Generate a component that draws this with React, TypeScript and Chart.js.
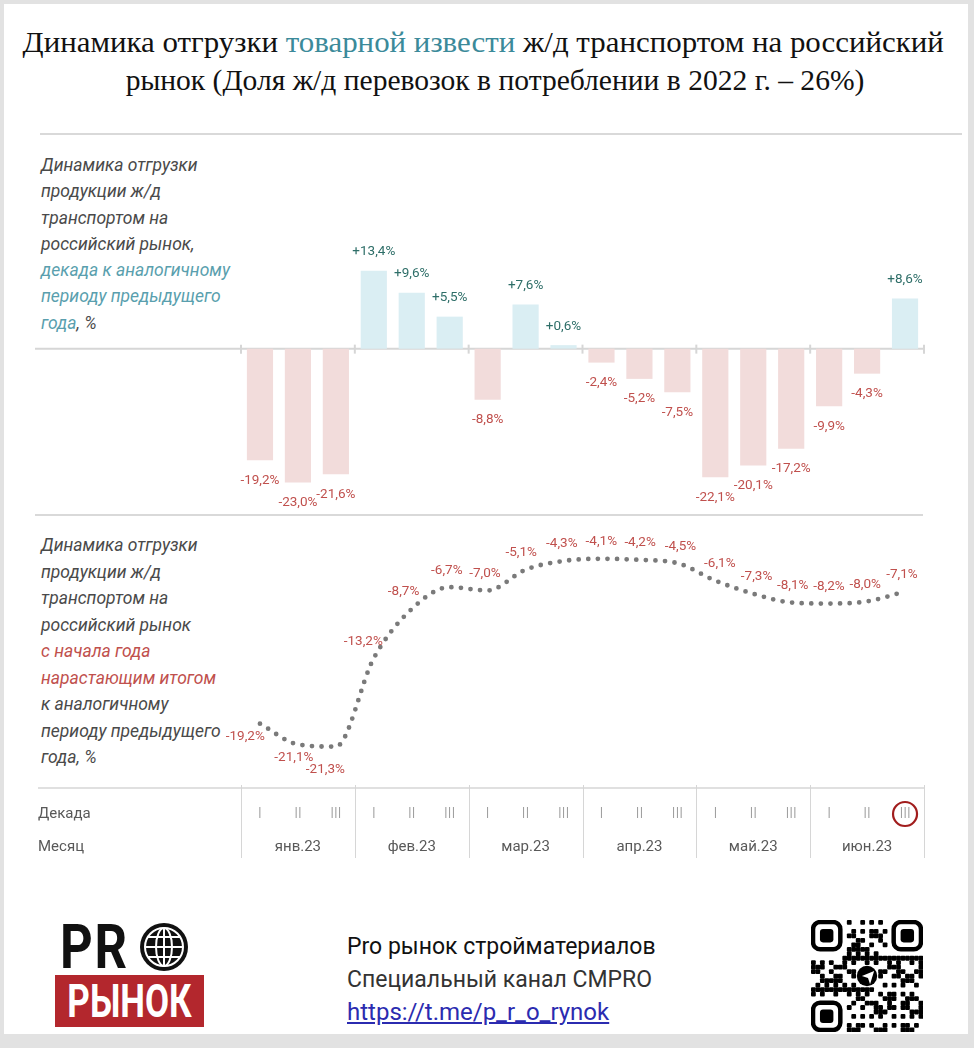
import React, { useEffect, useRef } from "react";
import { Chart, registerables } from "chart.js";

Chart.register(...registerables);

// ---------- data ----------
const decadeLabels = ["I", "II", "III", "I", "II", "III", "I", "II", "III", "I", "II", "III", "I", "II", "III", "I", "II", "III"];
const monthLabels = ["янв.23", "фев.23", "мар.23", "апр.23", "май.23", "июн.23"];
const decadeChange = [-19.2, -23.0, -21.6, 13.4, 9.6, 5.5, -8.8, 7.6, 0.6, -2.4, -5.2, -7.5, -22.1, -20.1, -17.2, -9.9, -4.3, 8.6];
const ytdChange = [-19.2, -21.1, -21.3, -13.2, -8.7, -6.7, -7.0, -5.1, -4.3, -4.1, -4.2, -4.5, -6.1, -7.3, -8.1, -8.2, -8.0, -7.1];

// ---------- styles ----------
const FONT = "Roboto, 'Noto Sans', sans-serif";
const NEG_BAR = "#f2dcdb";
const POS_BAR = "#daeef3";
const NEG_TXT = "#c0504d";
const POS_TXT = "#2e6e68";
const GRID = "#d6d6d6";
const N = decadeLabels.length;

const fmt = (v: number, plus: boolean) =>
  (plus && v > 0 ? "+" : "") + v.toFixed(1).replace(".", ",") + "%";

function BarChart() {
  const ref = useRef<HTMLCanvasElement>(null);
  useEffect(() => {
    const plugin = {
      id: "barDecor",
      beforeDatasetsDraw(chart: any) {
        const { ctx, chartArea, scales } = chart;
        const y0 = scales.y.getPixelForValue(0);
        ctx.save();
        ctx.strokeStyle = GRID;
        ctx.lineWidth = 2;
        ctx.beginPath();
        ctx.moveTo(35, y0);
        ctx.lineTo(chartArea.right, y0);
        ctx.stroke();
        const step = (chartArea.right - chartArea.left) / N;
        for (let i = 0; i <= N; i += 3) {
          const x = chartArea.left + i * step;
          ctx.beginPath();
          ctx.moveTo(x, y0 - 4);
          ctx.lineTo(x, y0 + 5);
          ctx.stroke();
        }
        ctx.restore();
      },
      afterDatasetsDraw(chart: any) {
        const { ctx } = chart;
        const meta = chart.getDatasetMeta(0);
        ctx.save();
        ctx.font = `13.5px ${FONT}`;
        ctx.textAlign = "center";
        ctx.textBaseline = "middle";
        meta.data.forEach((el: any, i: number) => {
          const v = decadeChange[i];
          ctx.fillStyle = v >= 0 ? POS_TXT : NEG_TXT;
          ctx.fillText(fmt(v, true), el.x, v >= 0 ? el.y - 19 : el.y + 20);
        });
        ctx.restore();
      },
    };
    const chart = new Chart(ref.current!, {
      type: "bar",
      data: {
        labels: decadeLabels,
        datasets: [
          {
            data: decadeChange,
            backgroundColor: decadeChange.map((v) => (v >= 0 ? POS_BAR : NEG_BAR)),
            borderWidth: 0,
            barPercentage: 0.69,
            categoryPercentage: 1,
          },
        ],
      },
      options: {
        animation: false,
        responsive: false,
        devicePixelRatio: 1,
        layout: { padding: { left: 241, right: 50, top: 0, bottom: 0 } },
        plugins: { legend: { display: false }, tooltip: { enabled: false } },
        scales: {
          x: { display: false, offset: true },
          y: { display: false, min: -28.6, max: 36.9 },
        },
      },
      plugins: [plugin],
    });
    return () => chart.destroy();
  }, []);
  return (
    <canvas
      ref={ref}
      width={974}
      height={381}
      style={{ position: "absolute", left: 0, top: 134, width: 974, height: 381 }}
    />
  );
}

function LineChart() {
  const ref = useRef<HTMLCanvasElement>(null);
  useEffect(() => {
    const plugin = {
      id: "lineDecor",
      afterDraw(chart: any) {
        const { ctx, chartArea } = chart;
        const meta = chart.getDatasetMeta(0);
        const pts = meta.data.map((p: any) => ({ x: p.x, y: p.y }));
        ctx.save();
        // value labels
        ctx.font = `13.5px ${FONT}`;
        ctx.textAlign = "center";
        ctx.textBaseline = "middle";
        ctx.fillStyle = NEG_TXT;
        pts.forEach((p: any, i: number) => {
          const a = pts[Math.max(0, i - 1)];
          const b = pts[Math.min(pts.length - 1, i + 1)];
          const dx = b.x - a.x;
          const dy = b.y - a.y;
          const len = Math.hypot(dx, dy) || 1;
          const nx = dy / len; // upward normal x
          const below = i < 3;
          const ox = below ? -Math.abs(nx) * 14 - (i === 0 ? 8 : 0) : nx * 12;
          const oy = below ? 13 + (i === 2 ? 10 : 0) : -17;
          ctx.fillText(fmt(ytdChange[i], false), p.x + ox, p.y + oy);
        });
        // table
        const axisY = chartArea.bottom + 1;
        const step = (chartArea.right - chartArea.left) / N;
        ctx.strokeStyle = GRID;
        ctx.lineWidth = 1.5;
        ctx.beginPath();
        ctx.moveTo(38, axisY);
        ctx.lineTo(chartArea.right + 1, axisY);
        ctx.stroke();
        ctx.lineWidth = 1;
        for (let i = 0; i <= N; i += 3) {
          const x = Math.round(chartArea.left + i * step) + 0.5;
          ctx.beginPath();
          ctx.moveTo(x, axisY - 3);
          ctx.lineTo(x, axisY + 70);
          ctx.stroke();
        }
        const decY = axisY + 26;
        const monY = axisY + 59;
        ctx.font = `15px ${FONT}`;
        ctx.textAlign = "left";
        ctx.fillStyle = "#595959";
        ctx.fillText("Декада", 38, decY);
        ctx.fillText("Месяц", 38, monY);
        ctx.textAlign = "center";
        ctx.font = `300 14px ${FONT}`;
        ctx.fillStyle = "#8a8a8a";
        decadeLabels.forEach((l, i) => {
          ctx.fillText(l, chartArea.left + (i + 0.5) * step, decY);
        });
        ctx.font = `15px ${FONT}`;
        ctx.fillStyle = "#595959";
        monthLabels.forEach((m, j) => {
          ctx.fillText(m, chartArea.left + (j * 3 + 1.5) * step, monY);
        });
        // highlight circle around latest decade
        ctx.strokeStyle = "#a11d1d";
        ctx.lineWidth = 2.2;
        ctx.beginPath();
        ctx.arc(chartArea.left + (N - 0.5) * step, decY, 12, 0, Math.PI * 2);
        ctx.stroke();
        ctx.restore();
      },
    };
    const chart = new Chart(ref.current!, {
      type: "line",
      data: {
        labels: decadeLabels,
        datasets: [
          {
            data: ytdChange,
            borderColor: "#7a7a7a",
            borderWidth: 4.8,
            borderDash: [0, 9.6],
            borderCapStyle: "round",
            pointRadius: 0,
            fill: false,
            cubicInterpolationMode: "monotone",
          },
        ],
      },
      options: {
        animation: false,
        responsive: false,
        devicePixelRatio: 1,
        layout: { padding: { left: 241, right: 50, top: 14, bottom: 83 } },
        plugins: { legend: { display: false }, tooltip: { enabled: false } },
        scales: {
          x: { display: false, offset: true },
          y: { display: false, min: -25, max: 0 },
        },
      },
      plugins: [plugin],
    });
    return () => chart.destroy();
  }, []);
  return (
    <canvas
      ref={ref}
      width={974}
      height={370}
      style={{ position: "absolute", left: 0, top: 500, width: 974, height: 370 }}
    />
  );
}

function Globe() {
  return (
    <svg width={50} height={50} viewBox="0 0 50 50" style={{ position: "absolute", left: 139, top: 922 }}>
      <circle cx={25} cy={25} r={24} fill="#111" />
      <g stroke="#fff" strokeWidth={2} fill="none">
        <circle cx={25} cy={25} r={19} />
        <ellipse cx={25} cy={25} rx={8} ry={19} />
        <line x1={25} y1={6} x2={25} y2={44} />
        <line x1={6} y1={25} x2={44} y2={25} />
        <line x1={9} y1={15} x2={41} y2={15} />
        <line x1={9} y1={35} x2={41} y2={35} />
      </g>
    </svg>
  );
}

function QrCode() {
  const size = 25;
  const cell = 4.4;
  const cells: JSX.Element[] = [];
  const inFinder = (r: number, c: number) =>
    (r < 8 && c < 8) || (r < 8 && c > size - 9) || (r > size - 9 && c < 8);
  for (let r = 0; r < size; r++) {
    for (let c = 0; c < size; c++) {
      if (inFinder(r, c)) continue;
      if (Math.abs(r - 12) < 3 && Math.abs(c - 12) < 3) continue;
      const h = (r * 31 + c * 17 + ((r * c) % 7) * 5) % 11;
      if (h < 5) cells.push(<rect key={r + "-" + c} x={c * cell} y={r * cell} width={cell + 0.3} height={cell + 0.3} rx={1} />);
    }
  }
  const finder = (x: number, y: number) => (
    <g key={x + "f" + y}>
      <rect x={x + 2} y={y + 2} width={cell * 7 - 4} height={cell * 7 - 4} rx={7} fill="none" stroke="#000" strokeWidth={4.4} />
      <rect x={x + cell * 2} y={y + cell * 2} width={cell * 3} height={cell * 3} rx={3} fill="#000" />
    </g>
  );
  return (
    <svg width={112} height={112} viewBox={`0 0 ${size * cell} ${size * cell}`} style={{ position: "absolute", left: 811, top: 920 }}>
      <g fill="#000">{cells}</g>
      {finder(0, 0)}
      {finder((size - 7) * cell, 0)}
      {finder(0, (size - 7) * cell)}
      <circle cx={12.5 * cell} cy={12.5 * cell} r={10} fill="#000" />
      <path d="M50 55 L62 50 L58 63 L56 57 Z" fill="#fff" />
    </svg>
  );
}

export default function App() {
  const desc: React.CSSProperties = {
    position: "absolute",
    left: 41,
    fontFamily: FONT,
    fontStyle: "italic",
    fontSize: 17.5,
    color: "#4a4a4a",
    whiteSpace: "nowrap",
  };
  return (
    <div style={{ position: "absolute", left: 0, top: 0, width: 974, height: 1048, background: "#e2e2e2", overflow: "hidden" }}>
      <div style={{ position: "absolute", left: 4, top: 4, width: 964, height: 1030, background: "#fff" }} />
      <div
        style={{
          position: "absolute",
          left: 0,
          top: 23,
          width: 966,
          textAlign: "center",
          fontFamily: "'Liberation Serif', 'Times New Roman', serif",
          fontSize: 30,
          lineHeight: "38px",
          color: "#111",
          whiteSpace: "nowrap",
        }}
      >
        <span style={{ display: "inline-block", transform: "scaleX(1.03)" }}>
          Динамика отгрузки <span style={{ color: "#3b8a9a" }}>товарной извести</span> ж/д транспортом на российский
        </span>
        <br />
        <span style={{ display: "inline-block", transform: "translateX(12px) scaleX(0.985)" }}>
          рынок (Доля ж/д перевозок в потреблении в 2022 г. – 26%)
        </span>
      </div>
      <div style={{ position: "absolute", left: 40, top: 133, width: 922, height: 2, background: "#d9d9d9" }} />
      <div style={{ ...desc, top: 152, lineHeight: "26.3px" }}>
        Динамика отгрузки
        <br />
        продукции ж/д
        <br />
        транспортом на
        <br />
        российский рынок,
        <br />
        <span style={{ color: "#5a9fae" }}>
          декада к аналогичному
          <br />
          периоду предыдущего
          <br />
          года
        </span>
        , %
      </div>
      <div style={{ ...desc, top: 532, lineHeight: "26.5px" }}>
        Динамика отгрузки
        <br />
        продукции ж/д
        <br />
        транспортом на
        <br />
        российский рынок
        <br />
        <span style={{ color: "#c0504d" }}>
          с начала года
          <br />
          нарастающим итогом
        </span>
        <br />
        к аналогичному
        <br />
        периоду предыдущего
        <br />
        года, %
      </div>
      <BarChart />
      <div style={{ position: "absolute", left: 35, top: 514, width: 888, height: 2, background: "#d9d9d9" }} />
      <LineChart />
      {/* footer */}
      <div
        style={{
          position: "absolute",
          left: 60,
          top: 912,
          fontFamily: FONT,
          fontWeight: 700,
          fontSize: 62,
          lineHeight: "70px",
          color: "#111",
          transform: "scaleX(0.82)",
          transformOrigin: "left top",
          letterSpacing: 2,
        }}
      >
        PR
      </div>
      <Globe />
      <div
        style={{
          position: "absolute",
          left: 55,
          top: 975,
          width: 149,
          height: 52,
          background: "#b3272d",
          overflow: "hidden",
        }}
      >
        <div
          style={{
            position: "absolute",
            left: -20,
            top: 0,
            width: 189,
            textAlign: "center",
            fontFamily: FONT,
            fontWeight: 700,
            fontSize: 46,
            lineHeight: "52px",
            color: "#fff",
            transform: "scaleX(0.76)",
            transformOrigin: "center top",
          }}
        >
          РЫНОК
        </div>
      </div>
      <div style={{ position: "absolute", left: 347, top: 930, fontFamily: FONT, fontSize: 23, lineHeight: "33px", color: "#111", whiteSpace: "nowrap" }}>
        Pro рынок стройматериалов
        <br />
        <span style={{ color: "#333" }}>Специальный канал CMPRO</span>
        <br />
        <span style={{ color: "#2b2bb0", textDecoration: "underline", fontSize: 24 }}>https://t.me/p_r_o_rynok</span>
      </div>
      <QrCode />
    </div>
  );
}
